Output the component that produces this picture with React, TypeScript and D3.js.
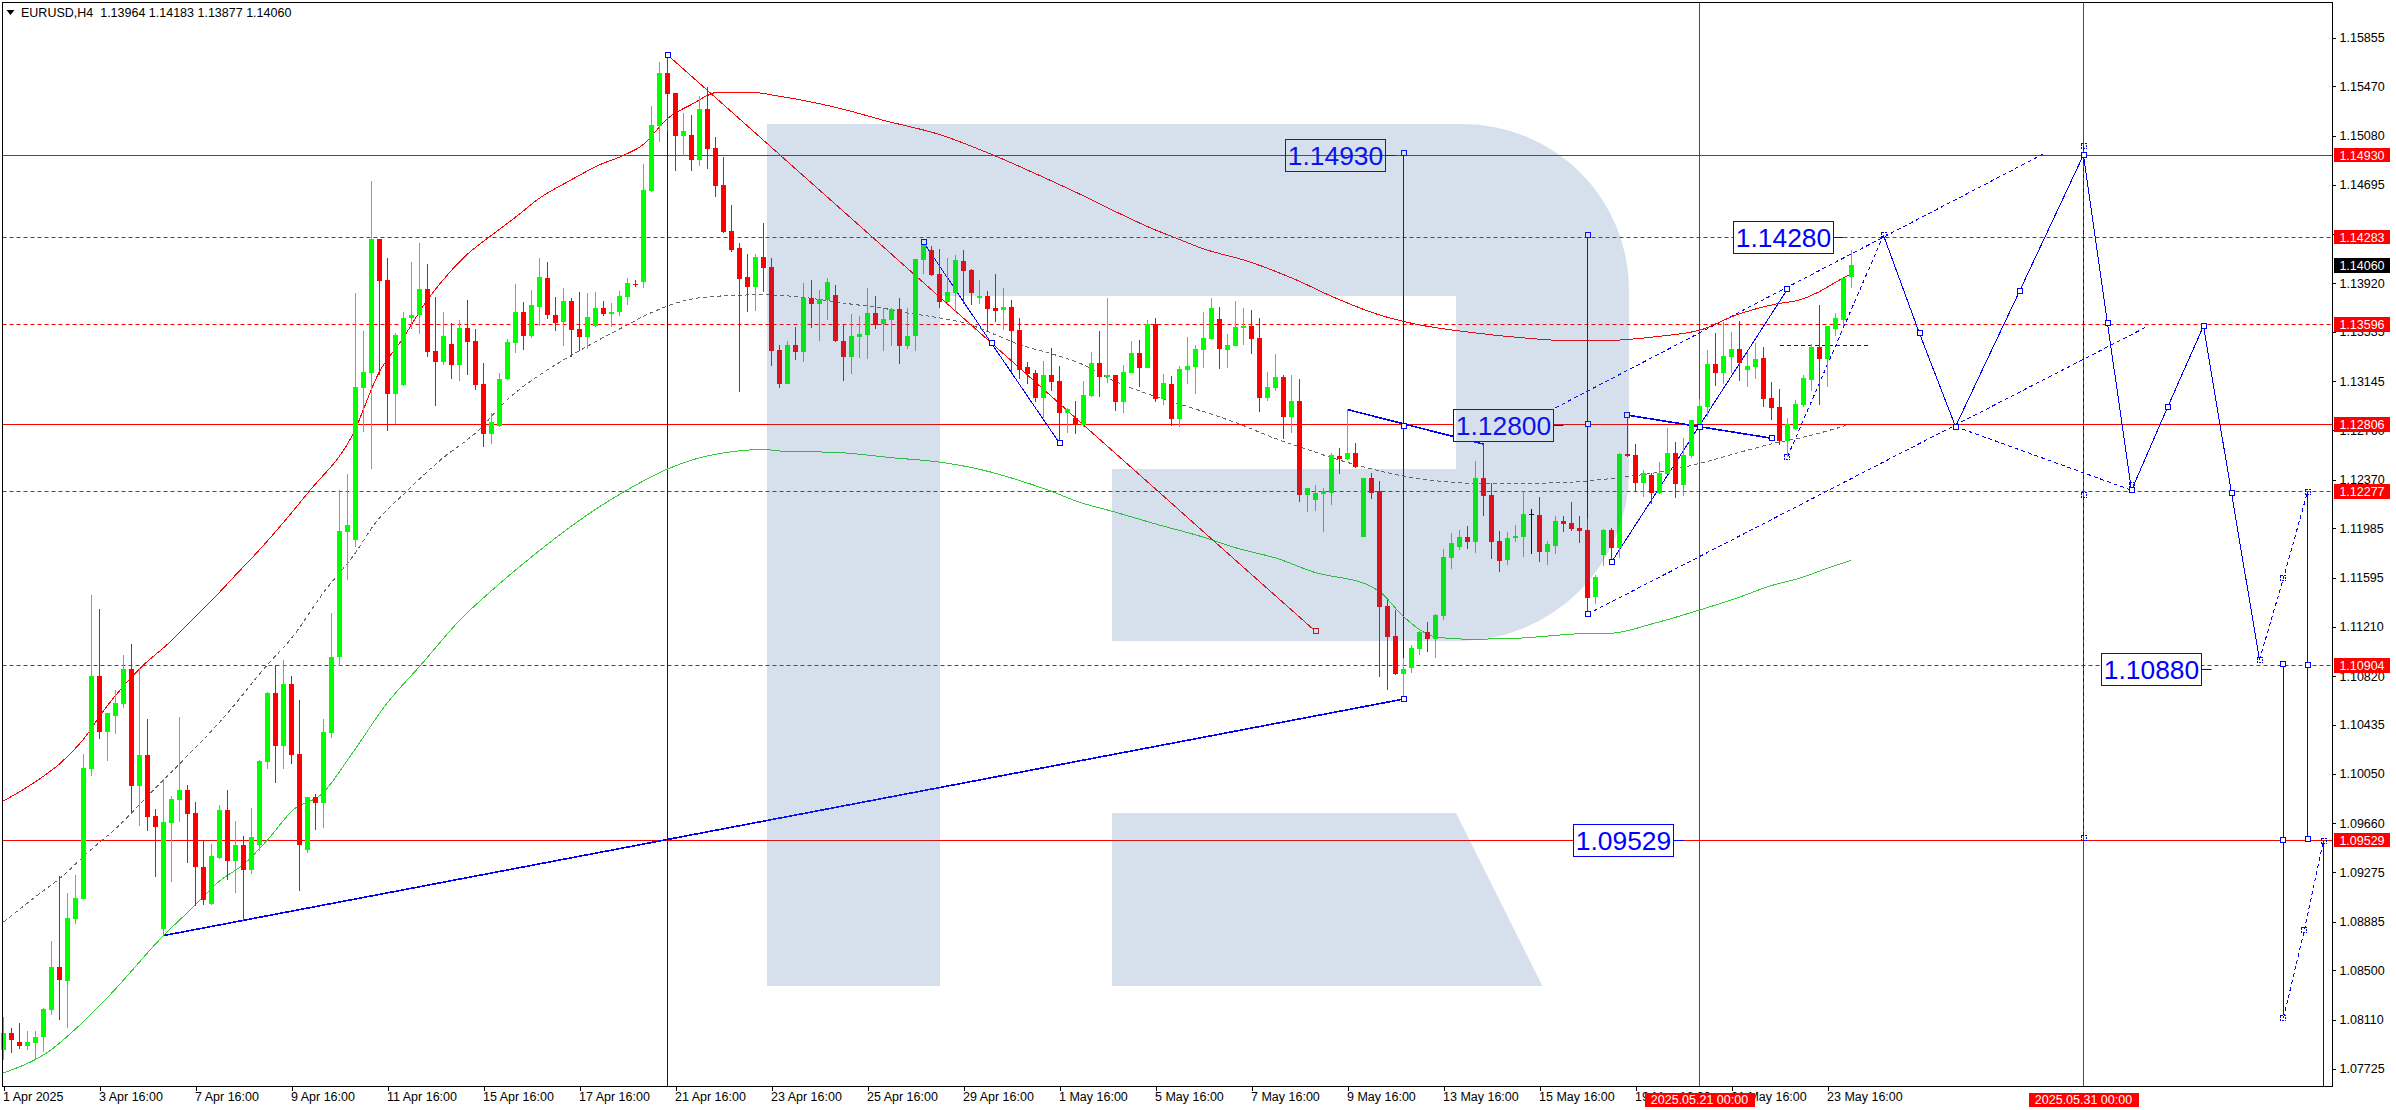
import React, { useEffect, useRef } from 'react';
import * as d3 from 'd3';

const opens = [
  1.07872, 1.08006, 1.07934, 1.07900, 1.07925, 1.07973, 1.08188, 1.08526, 1.08414, 1.08905,
  1.09064, 1.10086, 1.10820, 1.10379, 1.10505, 1.10600, 1.10876, 1.09952, 1.10198, 1.09718,
  1.08824, 1.09662, 1.09843, 1.09921, 1.09740, 1.09318, 1.09020, 1.09388, 1.09765, 1.09360,
  1.09489, 1.09290, 1.09489, 1.10142, 1.10686, 1.10268, 1.10759, 1.10206, 1.09450, 1.09866,
  1.09818, 1.10371, 1.10971, 1.11956, 1.11892, 1.13092, 1.13210, 1.14268, 1.13944, 1.13045,
  1.13115, 1.13645, 1.13667, 1.13874, 1.13383, 1.13296, 1.13439, 1.13274, 1.13564, 1.13464,
  1.13123, 1.12730, 1.12791, 1.13162, 1.13447, 1.13693, 1.13503, 1.13732, 1.13961, 1.13667,
  1.13612, 1.13779, 1.13559, 1.13494, 1.13581, 1.13723, 1.13676, 1.13693, 1.13810, 1.13916,
  1.13927, 1.14645, 1.15158, 1.15577, 1.15418, 1.15080, 1.15088, 1.14890, 1.15292, 1.14985,
  1.14692, 1.14329, 1.14195, 1.13966, 1.13888, 1.14125, 1.14047, 1.13391, 1.13123, 1.13430,
  1.13377, 1.13802, 1.13754, 1.13785, 1.13827, 1.13461, 1.13335, 1.13494, 1.13511, 1.13684,
  1.13598, 1.13628, 1.13715, 1.13422, 1.13503, 1.14100, 1.14178, 1.13991, 1.13771, 1.13841,
  1.14092, 1.14022, 1.13802, 1.13818, 1.13723, 1.13707, 1.13732, 1.13550, 1.13257, 1.13210,
  1.13014, 1.13193, 1.13148, 1.12894, 1.12855, 1.12802, 1.13028, 1.13288, 1.13179, 1.13193,
  1.12981, 1.13210, 1.13369, 1.13249, 1.13598, 1.13006, 1.13123, 1.12850, 1.13235, 1.13257,
  1.13391, 1.13478, 1.13637, 1.13391, 1.13422, 1.13564, 1.13584, 1.13486, 1.13015, 1.13093,
  1.13179, 1.12864, 1.12989, 1.12250, 1.12208, 1.12258, 1.12264, 1.12557, 1.12532, 1.12579,
  1.11920, 1.12384, 1.12278, 1.11373, 1.11136, 1.10840, 1.10884, 1.11030, 1.11169, 1.11113,
  1.11295, 1.11750, 1.11839, 1.11917, 1.11878, 1.12384, 1.12250, 1.11887, 1.11736, 1.11909,
  1.11917, 1.12099, 1.12090, 1.11800, 1.11848, 1.12043, 1.12026, 1.11987, 1.11973, 1.11443,
  1.11775, 1.11973, 1.11831, 1.12571, 1.12565, 1.12342, 1.12406, 1.12264, 1.12414, 1.12579,
  1.12328, 1.12557, 1.12788, 1.12942, 1.13282, 1.13210, 1.13333, 1.13400, 1.13235, 1.13257,
  1.13330, 1.13015, 1.12942, 1.12677, 1.12766, 1.12956, 1.13159, 1.13416, 1.13321, 1.13561,
  1.13626, 1.13964,
];

const highs = [
  1.08132, 1.08048, 1.08084, 1.08020, 1.08020, 1.08202, 1.08729, 1.09240, 1.09109, 1.09251,
  1.10206, 1.11460, 1.11348, 1.10530, 1.10709, 1.10985, 1.11074, 1.10887, 1.10482, 1.09771,
  1.10008, 1.09871, 1.10496, 1.09960, 1.09826, 1.09528, 1.09500, 1.09804, 1.09921, 1.09681,
  1.09556, 1.09779, 1.10161, 1.10692, 1.10904, 1.10946, 1.10820, 1.10630, 1.09866, 1.09888,
  1.10482, 1.11314, 1.12286, 1.12411, 1.13841, 1.13542, 1.14728, 1.14268, 1.14117, 1.13528,
  1.13695, 1.14086, 1.14234, 1.14069, 1.13810, 1.13693, 1.13603, 1.13626, 1.13785, 1.13556,
  1.13288, 1.12891, 1.13210, 1.13478, 1.13913, 1.13771, 1.13863, 1.14117, 1.14086, 1.13810,
  1.13880, 1.13799, 1.13849, 1.13841, 1.13849, 1.13779, 1.13762, 1.13855, 1.13963, 1.13947,
  1.14859, 1.15317, 1.15661, 1.15742, 1.15418, 1.15261, 1.15245, 1.15393, 1.15465, 1.15072,
  1.14913, 1.14536, 1.14234, 1.14148, 1.14148, 1.14393, 1.14117, 1.13430, 1.13461, 1.13573,
  1.13919, 1.13944, 1.13863, 1.13963, 1.13905, 1.13598, 1.13676, 1.13659, 1.13882, 1.13818,
  1.13723, 1.13723, 1.13802, 1.13723, 1.14109, 1.14243, 1.14209, 1.14187, 1.14117, 1.14142,
  1.14178, 1.14030, 1.13944, 1.13855, 1.13991, 1.13882, 1.13785, 1.13645, 1.13296, 1.13232,
  1.13305, 1.13408, 1.13265, 1.12936, 1.12989, 1.13148, 1.13377, 1.13542, 1.13802, 1.13193,
  1.13271, 1.13464, 1.13469, 1.13626, 1.13645, 1.13201, 1.13187, 1.13265, 1.13494, 1.13430,
  1.13690, 1.13802, 1.13732, 1.13514, 1.13779, 1.13724, 1.13707, 1.13645, 1.13218, 1.13361,
  1.13193, 1.13193, 1.13162, 1.12300, 1.12328, 1.12300, 1.12582, 1.12621, 1.12928, 1.12657,
  1.12386, 1.12423, 1.12356, 1.11420, 1.11342, 1.10960, 1.11063, 1.11175, 1.11247, 1.11309,
  1.11820, 1.11948, 1.11970, 1.12004, 1.12515, 1.12649, 1.12342, 1.11965, 1.11956, 1.12012,
  1.12280, 1.12138, 1.12233, 1.11887, 1.12082, 1.12082, 1.12194, 1.12082, 1.12063, 1.11616,
  1.11979, 1.11987, 1.12582, 1.12878, 1.12652, 1.12445, 1.12425, 1.12509, 1.12777, 1.12665,
  1.12699, 1.12836, 1.13006, 1.13391, 1.13525, 1.13612, 1.13534, 1.13617, 1.13375, 1.13444,
  1.13416, 1.13137, 1.13084, 1.12853, 1.12998, 1.13198, 1.13439, 1.13746, 1.13584, 1.13684,
  1.13961, 1.14183,
];

const lows = [
  1.07791, 1.07847, 1.07878, 1.07872, 1.07800, 1.07853, 1.08146, 1.08107, 1.08045, 1.08863,
  1.09064, 1.10036, 1.10323, 1.10150, 1.10365, 1.10569, 1.09751, 1.09637, 1.09598, 1.09235,
  1.08774, 1.09198, 1.09667, 1.09346, 1.09011, 1.09017, 1.09017, 1.09380, 1.09212, 1.09109,
  1.08886, 1.09260, 1.09444, 1.10086, 1.09977, 1.10086, 1.10128, 1.09126, 1.09424, 1.09606,
  1.09623, 1.10332, 1.10898, 1.11580, 1.11839, 1.12746, 1.12453, 1.13193, 1.12752, 1.12810,
  1.13106, 1.13561, 1.13517, 1.13335, 1.12950, 1.13277, 1.13162, 1.13148, 1.13193, 1.13076,
  1.12626, 1.12651, 1.12785, 1.13154, 1.13369, 1.13388, 1.13486, 1.13584, 1.13640, 1.13542,
  1.13422, 1.13335, 1.13380, 1.13402, 1.13570, 1.13659, 1.13575, 1.13659, 1.13746, 1.13891,
  1.13882, 1.14639, 1.15033, 1.15119, 1.14804, 1.14924, 1.14804, 1.14846, 1.14820, 1.14597,
  1.14312, 1.14164, 1.13062, 1.13693, 1.13698, 1.13849, 1.13265, 1.13092, 1.13123, 1.13313,
  1.13296, 1.13564, 1.13464, 1.13628, 1.13455, 1.13148, 1.13201, 1.13327, 1.13321, 1.13559,
  1.13383, 1.13422, 1.13282, 1.13399, 1.13383, 1.13991, 1.13975, 1.13723, 1.13751, 1.13695,
  1.13751, 1.13746, 1.13754, 1.13533, 1.13612, 1.13550, 1.13221, 1.13162, 1.13123, 1.12981,
  1.12858, 1.13067, 1.12657, 1.12741, 1.12730, 1.12783, 1.13020, 1.13020, 1.13131, 1.12911,
  1.12894, 1.13210, 1.13101, 1.13249, 1.12981, 1.12958, 1.12794, 1.12788, 1.13123, 1.13045,
  1.13249, 1.13478, 1.13243, 1.13249, 1.13422, 1.13430, 1.13361, 1.12903, 1.12989, 1.13068,
  1.12691, 1.12738, 1.12194, 1.12118, 1.12124, 1.11956, 1.12169, 1.12414, 1.12523, 1.12462,
  1.11920, 1.12216, 1.10812, 1.10711, 1.10829, 1.10653, 1.10845, 1.10985, 1.11010, 1.10963,
  1.11261, 1.11663, 1.11817, 1.11822, 1.11792, 1.12082, 1.11744, 1.11641, 1.11697, 1.11878,
  1.11758, 1.11783, 1.11719, 1.11697, 1.11783, 1.11956, 1.11965, 1.11870, 1.11309, 1.11390,
  1.11688, 1.11719, 1.11750, 1.12551, 1.12272, 1.12236, 1.12174, 1.12258, 1.12414, 1.12224,
  1.12244, 1.12537, 1.12775, 1.12867, 1.13109, 1.13123, 1.13210, 1.13146, 1.13101, 1.13165,
  1.12942, 1.12839, 1.12643, 1.12546, 1.12760, 1.12942, 1.13067, 1.12961, 1.13101, 1.13506,
  1.13584, 1.13877,
];

const closes = [
  1.08006, 1.07950, 1.07900, 1.07934, 1.07978, 1.08193, 1.08526, 1.08425, 1.08911, 1.09070,
  1.10094, 1.10820, 1.10379, 1.10530, 1.10608, 1.10876, 1.09952, 1.10198, 1.09709, 1.09631,
  1.09670, 1.09852, 1.09921, 1.09732, 1.09318, 1.09053, 1.09402, 1.09765, 1.09360, 1.09489,
  1.09290, 1.09550, 1.10150, 1.10686, 1.10268, 1.10759, 1.10198, 1.09489, 1.09866, 1.09818,
  1.10379, 1.10971, 1.11965, 1.12012, 1.13101, 1.13218, 1.14268, 1.13935, 1.13045, 1.13511,
  1.13645, 1.13667, 1.13874, 1.13377, 1.13296, 1.13503, 1.13274, 1.13564, 1.13455, 1.13115,
  1.12730, 1.12824, 1.13162, 1.13455, 1.13693, 1.13503, 1.13746, 1.13966, 1.13667, 1.13603,
  1.13779, 1.13550, 1.13494, 1.13651, 1.13723, 1.13676, 1.13695, 1.13818, 1.13919, 1.13910,
  1.14653, 1.15167, 1.15577, 1.15412, 1.15080, 1.15119, 1.14890, 1.15292, 1.14977, 1.14686,
  1.14321, 1.14178, 1.13952, 1.13888, 1.14125, 1.14039, 1.13383, 1.13123, 1.13430, 1.13377,
  1.13802, 1.13754, 1.13793, 1.13927, 1.13461, 1.13335, 1.13503, 1.13517, 1.13684, 1.13589,
  1.13637, 1.13715, 1.13422, 1.13503, 1.14109, 1.14226, 1.13980, 1.13771, 1.13849, 1.14100,
  1.14014, 1.13841, 1.13818, 1.13715, 1.13698, 1.13732, 1.13542, 1.13232, 1.13201, 1.13014,
  1.13193, 1.13140, 1.12894, 1.12925, 1.12802, 1.13037, 1.13288, 1.13179, 1.13193, 1.12981,
  1.13218, 1.13369, 1.13249, 1.13598, 1.13006, 1.13131, 1.12850, 1.13240, 1.13265, 1.13399,
  1.13486, 1.13724, 1.13400, 1.13430, 1.13570, 1.13584, 1.13478, 1.13015, 1.13101, 1.13179,
  1.12864, 1.12989, 1.12250, 1.12300, 1.12264, 1.12280, 1.12565, 1.12532, 1.12579, 1.12470,
  1.12384, 1.12264, 1.11365, 1.11127, 1.10834, 1.10876, 1.11038, 1.11169, 1.11113, 1.11303,
  1.11758, 1.11870, 1.11917, 1.11878, 1.12384, 1.12241, 1.11878, 1.11728, 1.11909, 1.11926,
  1.12099, 1.12099, 1.11800, 1.11862, 1.12043, 1.12021, 1.11979, 1.11965, 1.11437, 1.11602,
  1.11973, 1.11831, 1.12573, 1.12559, 1.12342, 1.12425, 1.12264, 1.12423, 1.12579, 1.12336,
  1.12565, 1.12836, 1.12948, 1.13282, 1.13210, 1.13341, 1.13400, 1.13288, 1.13266, 1.13322,
  1.13009, 1.12936, 1.12677, 1.12805, 1.12967, 1.13171, 1.13416, 1.13321, 1.13581, 1.13645,
  1.13958, 1.14060,
];

// indicator curves, [bar, price]
const upperBand: [number, number][] = [
  [0, 1.09835], [3, 1.09947], [7, 1.10128], [10, 1.10323], [12.5, 1.10547], [17.3, 1.10896], [20.6, 1.11077],
  [23.7, 1.11273], [26.8, 1.11468], [29.7, 1.11663], [31.4, 1.11775], [38.2, 1.12277], [43.6, 1.12718], [47, 1.13221],
  [49.8, 1.13472], [52.9, 1.13779], [54.8, 1.13933], [57.9, 1.14142], [60.8, 1.14287], [64.2, 1.14449], [67, 1.14589],
  [70.4, 1.14714], [74.6, 1.14854], [77.4, 1.14924], [80, 1.15013], [83, 1.15217], [86, 1.15328], [89.4, 1.15426],
  [93, 1.15426], [97, 1.15393], [101.4, 1.15342], [105.7, 1.15278], [110, 1.15203], [117, 1.15091], [123.9, 1.14924],
  [129.6, 1.14765], [134.4, 1.14625], [139.2, 1.14477], [143.5, 1.14351], [146.8, 1.14268], [149.6, 1.14198],
  [155.8, 1.14086], [161.5, 1.13947], [166.3, 1.13807], [172, 1.13668], [176.8, 1.13592], [182.6, 1.13537],
  [190.2, 1.13486], [195, 1.13467], [200.3, 1.13467], [207, 1.13500], [212.2, 1.13551], [216.6, 1.13668],
  [221.8, 1.13757], [224.6, 1.13788], [226.9, 1.13849], [228.8, 1.13919], [230.8, 1.13988],
];

const middleBand: [number, number][] = [
  [0, 1.08880], [4.3, 1.09095], [7.5, 1.09249], [10.3, 1.09416], [14.4, 1.09639], [18.7, 1.09919], [22, 1.10128],
  [27.3, 1.10477], [33, 1.10910], [36, 1.11119], [40.2, 1.11496], [43.8, 1.11775], [46.4, 1.12020], [50.3, 1.12272],
  [54.6, 1.12523], [59.4, 1.12760], [62.7, 1.12983], [68, 1.13235], [71.3, 1.13360], [74.6, 1.13478], [77.4, 1.13570],
  [80.8, 1.13681], [86, 1.13793], [90.8, 1.13821], [95.1, 1.13827], [99.9, 1.13807], [105.2, 1.13760], [110.5, 1.13715],
  [113.3, 1.13681], [116.7, 1.13648], [120.5, 1.13598], [123.9, 1.13514], [127.2, 1.13430], [130.6, 1.13369],
  [134.4, 1.13291], [139.2, 1.13137], [144, 1.13025], [149.6, 1.12914], [153.9, 1.12822], [159.1, 1.12691],
  [163, 1.12607], [166.3, 1.12537], [171.1, 1.12453], [174.9, 1.12398], [179.7, 1.12356], [183, 1.12342],
  [191.7, 1.12342], [197.4, 1.12356], [201.7, 1.12384], [207.9, 1.12439], [212.7, 1.12509], [217.5, 1.12593],
  [221.8, 1.12663], [224, 1.12690], [230.3, 1.12796],
];

const lowerBand: [number, number][] = [
  [0, 1.07691], [4, 1.07797], [5.5, 1.07853], [8.7, 1.08020], [13.4, 1.08313], [20, 1.08774], [24, 1.09017],
  [26.8, 1.09193], [30.2, 1.09346], [33, 1.09528], [36.2, 1.09765], [39.8, 1.09891], [43.6, 1.10212], [47.9, 1.10603],
  [52.2, 1.10910], [57, 1.11259], [61.3, 1.11510], [66.3, 1.11775], [74.6, 1.12160], [77.9, 1.12286], [83, 1.12453],
  [86, 1.12523], [89.9, 1.12579], [92.7, 1.12601], [95.1, 1.12607], [97.5, 1.12593], [104.2, 1.12584], [110.9, 1.12543],
  [117.2, 1.12506], [122.4, 1.12445], [126.7, 1.12369], [131, 1.12277], [134.4, 1.12193], [138.7, 1.12118],
  [144, 1.12020], [149.6, 1.11923], [154.4, 1.11825], [159.1, 1.11750], [163.9, 1.11638], [170.6, 1.11538],
  [172.3, 1.11471], [174.9, 1.11295], [179.2, 1.11127], [183, 1.11111], [189.3, 1.11119], [197.4, 1.11155],
  [201, 1.11158], [206, 1.11231], [211.8, 1.11337], [216.6, 1.11434], [220.9, 1.11532], [224.6, 1.11594],
  [227.9, 1.11669], [230.9, 1.11733],
];

const redDiagonal: [number, number][] = [[83, 1.15719], [164, 1.11173]];

// forecast drawing, [bar, price]
const solidPaths: [number, number][][] = [
  [[20, 1.08774], [175, 1.10639]],
  [[115, 1.14242], [123.5, 1.13444], [132, 1.12657]],
  [[168, 1.12922], [185, 1.12649]],
  [[201, 1.11719], [223, 1.13872]],
  [[203, 1.12878], [221, 1.12696]],
  [[235, 1.14296], [239.5, 1.13522], [244, 1.12788], [252, 1.13855], [260, 1.14930], [263, 1.13603], [266, 1.12286],
    [270.5, 1.12939], [275, 1.13581], [278.5, 1.12263], [282, 1.10949]],
];

const dashedPaths: [number, number][][] = [
  [[198, 1.11309], [268, 1.13578]],
  [[194, 1.12936], [255, 1.14938]],
  [[223, 1.12551], [235, 1.14296]],
  [[222, 1.13425], [233, 1.13425]],
  [[244, 1.12788], [266, 1.12286]],
  [[282, 1.10949], [285, 1.11594], [288, 1.12272]],
  [[285, 1.08124], [287.6, 1.08816], [290, 1.09522]],
];

const verticalBars = [83, 175, 198, 285, 288, 290];
const verticalTops = [1.15719, 1.14944, 1.14298, 1.10912, 1.12272, 1.09522];
const verticalBottoms = [1.0758, 1.10639, 1.11309, 1.08146, 1.09533, 1.0758];

const dashedVerticalBar = 260;
const dashedVerticalTop = 1.15;
const dashedVerticalBottom = 1.09542;

const solidMarkers: [number, number][] = [
  [83, 1.15719], [115, 1.14242], [123.5, 1.13444], [132, 1.12657], [175, 1.10639], [175, 1.14944], [175, 1.12793],
  [198, 1.14298], [198, 1.12805], [198, 1.11309], [201, 1.11719], [203, 1.12878], [212, 1.12788], [221, 1.12696],
  [223, 1.13872], [239.5, 1.13522], [244, 1.12788], [252, 1.13855], [260, 1.14930], [263, 1.13603], [266, 1.12286],
  [270.5, 1.12939], [275, 1.13581], [278.5, 1.12263], [285, 1.10912], [285, 1.09525], [288, 1.10904], [288, 1.09533],
];

const dashedMarkers: [number, number][] = [
  [235, 1.14296], [260, 1.15], [260, 1.12250], [260, 1.09542], [266, 1.12330], [282, 1.10949], [285, 1.11594],
  [288, 1.12272], [285, 1.08124], [287.6, 1.08816], [290, 1.09522], [223, 1.12551],
];

const labelTexts = ['1.14930', '1.12800', '1.14280', '1.10880', '1.09529'];
const labelBars = [160.2, 181.2, 216.2, 262.2, 196.2];
const labelFilled = [false, true, true, true, true];

const levelPrices = [1.1493, 1.14283, 1.13596, 1.12806, 1.12277, 1.10904, 1.09529];
const levelDashed = [false, true, true, false, true, true, false];
const currentPrice = 1.1406;

const priceTicks = [
  1.15855, 1.1547, 1.1508, 1.14695, 1.14305, 1.1392, 1.13535, 1.13145, 1.1276, 1.1237, 1.11985, 1.11595, 1.1121,
  1.1082, 1.10435, 1.1005, 1.0966, 1.09275, 1.08885, 1.085, 1.0811, 1.07725,
];

const dateTicks = [
  '1 Apr 2025', '3 Apr 16:00', '7 Apr 16:00', '9 Apr 16:00', '11 Apr 16:00', '15 Apr 16:00', '17 Apr 16:00',
  '21 Apr 16:00', '23 Apr 16:00', '25 Apr 16:00', '29 Apr 16:00', '1 May 16:00', '5 May 16:00', '7 May 16:00',
  '9 May 16:00', '13 May 16:00', '15 May 16:00', '19 May 16:00', '21 May 16:00', '23 May 16:00',
];
const dateTickBars = dateTicks.map((_, i) => i * 12);

const timeLineBars = [212, 260];
const timeLineLabels = ['2025.05.21 00:00', '2025.05.31 00:00'];

const headerText = 'EURUSD,H4  1.13964 1.14183 1.13877 1.14060';

export default function App() {
  const svgRef = useRef<SVGSVGElement | null>(null);

  useEffect(() => {
    if (!svgRef.current) return;
    const svg = d3.select(svgRef.current);
    svg.selectAll('*').remove();

    const width = 2396;
    const height = 1110;
    const plot = { left: 2.5, right: 2332.5, top: 2.5, bottom: 1086.5 };
    const font = '"Liberation Sans", Arial, sans-serif';
    const blue = '#0000ff';
    const red = '#ff0000';

    // the trend lines and the outer verticals are drawn heavier than the forecast legs
    const heavyPaths = [0, 2, 4];
    const heavyVerticals = [0, 4, 5];

    const x = d3.scaleLinear().domain([0, 290]).range([3.5, 2323.5]);
    const y = d3.scaleLinear().domain([1.16128, 1.0758]).range([3, 1087]);

    const line = d3.line<[number, number]>().x(d => x(d[0])).y(d => y(d[1]));

    const root = svg.append('g').attr('font-family', font);

    // horizontal levels
    root.append('g').selectAll('line').data(levelPrices).join('line')
      .attr('x1', plot.left).attr('x2', plot.right)
      .attr('y1', d => Math.round(y(d)) + 0.5).attr('y2', d => Math.round(y(d)) + 0.5)
      .attr('stroke', red).attr('stroke-width', 1)
      .attr('stroke-dasharray', (_, i) => (levelDashed[i] ? '4,3' : null));

    // time lines
    root.append('g').selectAll('line').data(timeLineBars).join('line')
      .attr('x1', d => x(d)).attr('x2', d => x(d))
      .attr('y1', plot.top).attr('y2', plot.bottom)
      .attr('stroke', red).attr('stroke-width', 1).attr('shape-rendering', 'crispEdges');

    // forecast drawing
    const blueG = root.append('g').attr('fill', 'none').attr('stroke', blue).attr('stroke-width', 1);

    verticalBars.forEach((b, i) => {
      blueG.append('line')
        .attr('x1', x(b)).attr('x2', x(b))
        .attr('y1', y(verticalTops[i])).attr('y2', y(verticalBottoms[i]))
        .attr('stroke-width', heavyVerticals.includes(i) ? 1.6 : 1)
        .attr('shape-rendering', 'crispEdges');
    });
    blueG.append('line')
      .attr('x1', x(dashedVerticalBar)).attr('x2', x(dashedVerticalBar))
      .attr('y1', y(dashedVerticalTop)).attr('y2', y(dashedVerticalBottom))
      .attr('stroke-dasharray', '4,3').attr('shape-rendering', 'crispEdges');

    solidPaths.forEach((p, i) => {
      blueG.append('path').attr('d', line(p))
        .attr('stroke-width', heavyPaths.includes(i) ? 1.6 : 1)
        .attr('shape-rendering', 'crispEdges');
    });
    dashedPaths.forEach(p => {
      blueG.append('path').attr('d', line(p)).attr('stroke-dasharray', '4,3').attr('shape-rendering', 'crispEdges');
    });

    // indicators
    const drawCurve = (pts: [number, number][], color: string, dash?: string) => {
      root.append('path')
        .attr('d', line.curve(d3.curveMonotoneX)(pts))
        .attr('fill', 'none').attr('stroke', color).attr('stroke-width', 1)
        .attr('stroke-dasharray', dash ?? null)
        .attr('shape-rendering', 'crispEdges');
      line.curve(d3.curveLinear);
    };
    drawCurve(upperBand, red);
    drawCurve(middleBand, '#666666', '4,3');
    drawCurve(lowerBand, '#32cd32');

    root.append('path')
      .attr('d', line(redDiagonal))
      .attr('fill', 'none').attr('stroke', red).attr('stroke-width', 1)
      .attr('shape-rendering', 'crispEdges');

    // candles
    const candles = root.append('g').attr('shape-rendering', 'crispEdges');
    const candleColor = (i: number) =>
      closes[i] === opens[i] ? '#000000' : closes[i] > opens[i] ? '#00ff00' : red;

    candles.selectAll('line').data(opens).join('line')
      .attr('x1', (_, i) => x(i)).attr('x2', (_, i) => x(i))
      .attr('y1', (_, i) => y(highs[i])).attr('y2', (_, i) => y(lows[i]))
      .attr('stroke', (_, i) => candleColor(i)).attr('stroke-width', 1);

    candles.selectAll('rect').data(opens).join('rect')
      .attr('x', (_, i) => x(i) - 2.5)
      .attr('width', 5)
      .attr('y', (_, i) => y(Math.max(opens[i], closes[i])))
      .attr('height', (_, i) => Math.max(1, Math.abs(y(opens[i]) - y(closes[i]))))
      .attr('fill', (_, i) => candleColor(i));

    // square handles
    const handle = (pts: [number, number][], color: string, dash: string | null) => {
      root.append('g').selectAll('rect').data(pts).join('rect')
        .attr('x', d => Math.round(x(d[0])) - 2.5).attr('y', d => Math.round(y(d[1])) - 2.5)
        .attr('width', 5).attr('height', 5)
        .attr('fill', dash ? 'none' : '#ffffff').attr('stroke', color).attr('stroke-width', 1)
        .attr('stroke-dasharray', dash)
        .attr('shape-rendering', 'crispEdges');
    };
    handle(solidMarkers, blue, null);
    handle(dashedMarkers, blue, '2,1');
    handle([redDiagonal[1]], '#cc1010', null);

    // value boxes, centred on the value they name
    labelTexts.forEach((t, i) => {
      const cy = y(+t);
      const left = Math.round(x(labelBars[i])) + 0.5;
      const g = root.append('g');
      g.append('rect')
        .attr('x', left).attr('y', Math.round(cy - 16) + 0.5)
        .attr('width', 100).attr('height', 32)
        .attr('fill', labelFilled[i] ? '#ffffff' : 'none')
        .attr('stroke', blue).attr('stroke-width', 1)
        .attr('shape-rendering', 'crispEdges');
      g.append('line')
        .attr('x1', left + 100).attr('x2', left + 110)
        .attr('y1', Math.round(cy) + 0.5).attr('y2', Math.round(cy) + 0.5)
        .attr('stroke', blue).attr('stroke-width', 1);
      g.append('text')
        .attr('x', left + 50).attr('y', cy + 10)
        .attr('text-anchor', 'middle')
        .attr('font-size', 26.4).attr('fill', blue)
        .text(t);
    });

    // logo watermark sits over the whole plot
    const logo = root.append('g').attr('fill', 'rgb(50,100,160)').attr('fill-opacity', 0.2);
    logo.append('path')
      .attr('d', 'M767,124 H1463 A166,166 0 0 1 1629,290 V471 A170,170 0 0 1 1459,641 H1112 V469 H1456 V296 H940 V986 H767 Z');
    logo.append('path').attr('d', 'M1112,813 H1456 L1542.4,986 H1112 Z');

    // frame
    root.append('rect')
      .attr('x', plot.left).attr('y', plot.top)
      .attr('width', plot.right - plot.left).attr('height', plot.bottom - plot.top)
      .attr('fill', 'none').attr('stroke', '#000000').attr('stroke-width', 1)
      .attr('shape-rendering', 'crispEdges');

    // axes
    const yAxis = d3.axisRight(y).tickValues(priceTicks).tickSize(3).tickPadding(4)
      .tickFormat(d => Number(d).toFixed(5));
    const yG = root.append('g').attr('transform', `translate(${plot.right},0)`).call(yAxis);

    const xAxis = d3.axisBottom(x).tickValues(dateTickBars).tickSize(4).tickPadding(2)
      .tickFormat((_, i) => dateTicks[i]);
    const xG = root.append('g').attr('transform', `translate(0,${plot.bottom})`).call(xAxis);

    [yG, xG].forEach(g => {
      g.select('.domain').remove();
      g.selectAll('text')
        .attr('font-family', font).attr('font-size', 12.5).attr('fill', '#000000');
      g.selectAll('line').attr('stroke', '#000000').attr('shape-rendering', 'crispEdges');
    });
    xG.selectAll('text').attr('text-anchor', 'start').attr('x', -1);

    // price tags
    const tagPrices = [...levelPrices, currentPrice];
    const tags = root.append('g').selectAll('g').data(tagPrices).join('g');
    tags.append('rect')
      .attr('x', 2334).attr('y', d => y(d) - 7)
      .attr('width', 56).attr('height', 14.5)
      .attr('fill', d => (d === currentPrice ? '#000000' : red))
      .attr('shape-rendering', 'crispEdges');
    tags.append('text')
      .attr('x', 2339.4).attr('y', d => y(d) + 5)
      .attr('font-size', 12.5).attr('fill', '#ffffff')
      .text(d => d.toFixed(5));

    // time tags
    const timeTags = root.append('g').selectAll('g').data(timeLineBars).join('g');
    timeTags.append('rect')
      .attr('x', d => x(d) - 55).attr('y', 1092.5)
      .attr('width', 110).attr('height', 14.5)
      .attr('fill', red).attr('shape-rendering', 'crispEdges');
    timeTags.append('text')
      .attr('x', d => x(d)).attr('y', 1104)
      .attr('text-anchor', 'middle')
      .attr('font-size', 12.5).attr('fill', '#ffffff')
      .text((_, i) => timeLineLabels[i]);

    // header
    root.append('path').attr('d', 'M6.5,10 H14.5 L10.5,15 Z').attr('fill', '#000000');
    root.append('text')
      .attr('x', 21).attr('y', 17)
      .attr('font-size', 12.5).attr('fill', '#000000')
      .attr('style', 'white-space: pre')
      .text(headerText);

    svg.attr('width', width).attr('height', height);
  }, []);

  return (
    <svg
      ref={svgRef}
      style={{ position: 'absolute', left: 0, top: 0, display: 'block', background: '#ffffff' }}
    />
  );
}
